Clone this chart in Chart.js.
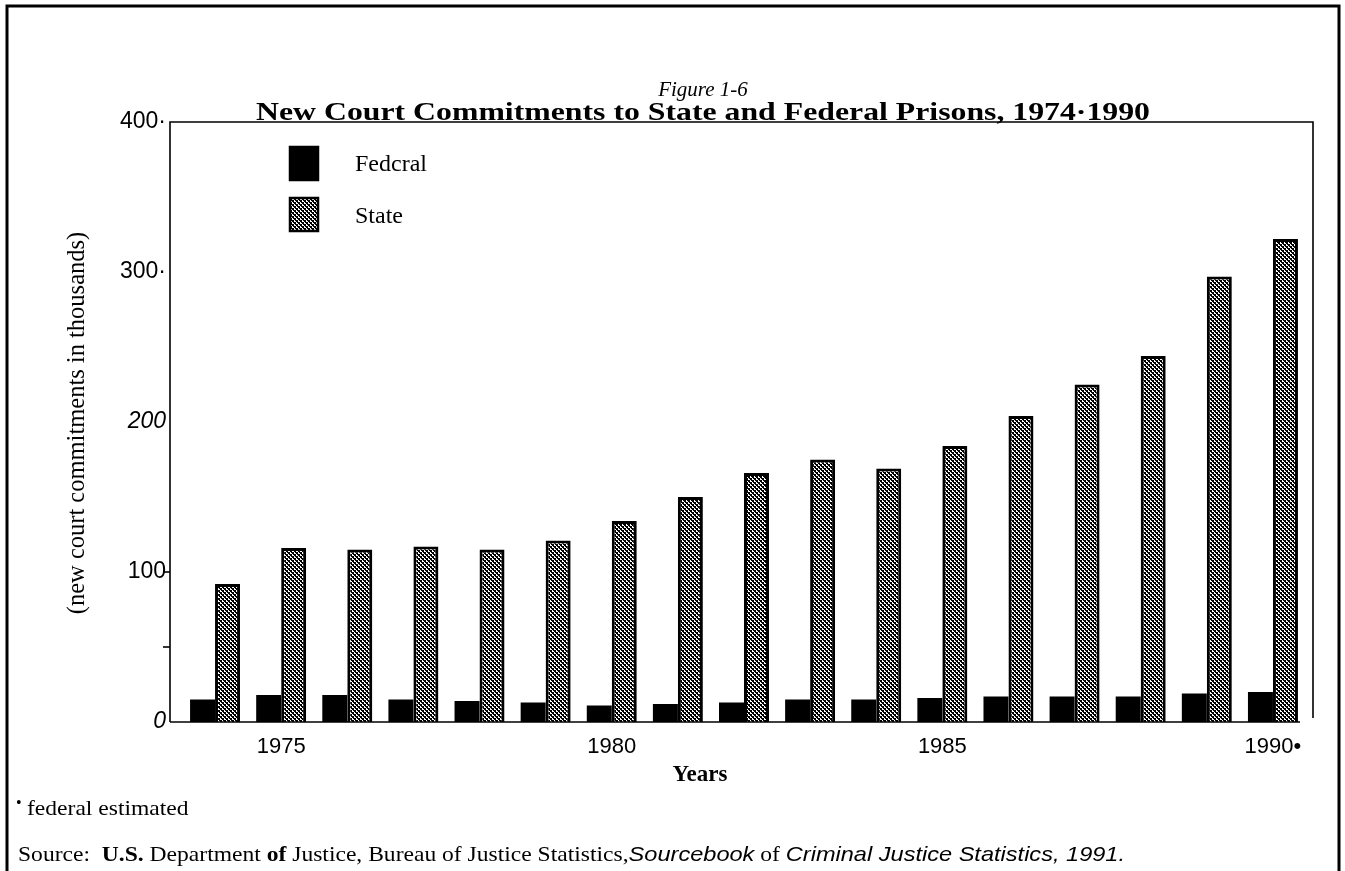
<!DOCTYPE html>
<html><head><meta charset="utf-8">
<script src="https://cdn.jsdelivr.net/npm/chart.js@4"></script>
<style>html,body{margin:0;padding:0;background:#fff;} canvas{display:block}</style>
</head><body><canvas id="c" width="1345" height="871"></canvas>
<script>
const years = [1974,1975,1976,1977,1978,1979,1980,1981,1982,1983,1984,1985,1986,1987,1988,1989,1990];
const federal = [15,18,18,15,14,13,11,12,13,15,15,16,17,17,17,19,20];
const state = [92,116,115,117,115,121,134,150,166,175,169,184,204,225,244,297,322];
const xTickLabels = {1975:'1975',1980:'1980',1985:'1985',1990:'1990\u2022'};
const yTickLabels = {0:'0',100:'100',200:'200',300:'300\u00B7',400:'400\u00B7'};
const yItalicTicks = [0,200];
const yTickMarks = [50,100];
const seriesNames = ['Fedcral','State'];

function makePattern(){
  const p=document.createElement('canvas');p.width=4;p.height=4;
  const g=p.getContext('2d');g.fillStyle='#fff';g.fillRect(0,0,4,4);
  g.fillStyle='#000';g.fillRect(0,0,2,2);g.fillRect(2,2,2,2);g.fillRect(3,0,1,1);g.fillRect(1,2,1,1);
  return document.getElementById('c').getContext('2d').createPattern(p,'repeat');
}
const statePattern = makePattern();
const SERIF = '"Liberation Serif","Times New Roman",serif';
const SANS = '"Liberation Sans",Arial,sans-serif';

function fitText(c,text,x,y,font,targetW,align){
  c.font=font;const w=c.measureText(text).width;const s=targetW/w;
  c.save();c.translate(x,y);c.scale(s,1);c.textAlign=align;c.fillText(text,0,0);c.restore();
}

const decor = {
  id:'decor',
  beforeDraw(chart){
    const c=chart.ctx;c.save();c.fillStyle='#fff';c.fillRect(0,0,chart.width,chart.height);c.restore();
  },
  afterDraw(chart){
    const c=chart.ctx, a=chart.chartArea, y=chart.scales.y;
    c.save();
    c.strokeStyle='#000';
    c.lineWidth=3;
    c.beginPath();c.moveTo(7,871);c.lineTo(7,6);c.lineTo(1339,6);c.lineTo(1339,871);c.stroke();
    const lx=a.left-12, rx=a.right+7, ty=a.top, by=y.getPixelForValue(0);
    c.lineWidth=1.6;
    c.beginPath();c.moveTo(lx,by);c.lineTo(lx,ty);c.lineTo(rx,ty);c.lineTo(rx,by-4);c.stroke();
    c.beginPath();c.moveTo(lx,by);c.lineTo(a.right-6,by);c.stroke();
    yTickMarks.forEach(v=>{const py=y.getPixelForValue(v);c.beginPath();c.moveTo(lx-7,py);c.lineTo(lx,py);c.stroke();});
    c.fillStyle='#000';c.textBaseline='alphabetic';
    c.textAlign='center';c.font='italic 21px '+SERIF;c.fillText('Figure 1-6',703,96);
    fitText(c,'New Court Commitments to State and Federal Prisons, 1974\u00B71990',703,120,'bold 26px '+SERIF,894,'center');
    const ds=chart.data.datasets;
    const lg=[[146,171],[197,223]];
    ds.forEach((d,i)=>{
      c.fillStyle=d.backgroundColor;c.fillRect(289,lg[i][0],30,35);
      c.lineWidth=2.5;c.strokeStyle='#000';c.strokeRect(290,lg[i][0]+1,28,33);
      c.fillStyle='#000';c.textAlign='left';c.font='24px '+SERIF;c.fillText(d.label,355,lg[i][1]);
    });
    c.save();c.translate(84,423);c.rotate(-Math.PI/2);c.textAlign='center';c.font='24.5px '+SERIF;
    c.fillText('(new court commitments in thousands)',0,0);c.restore();
    c.textAlign='center';c.font='bold 23px '+SERIF;c.fillText('Years',700,781);
    const segs=[['Source:  ','',SERIF],['U.S.','bold ',SERIF],[' Department ','',SERIF],['of','bold ',SERIF],[' Justice, Bureau of Justice Statistics,','',SERIF],['Sourcebook','italic ',SANS],[' of ','',SERIF],['Criminal Justice Statistics, 1991.','italic ',SANS]];
    const fs=21;
    let tot=0;segs.forEach(s=>{c.font=s[1]+fs+'px '+s[2];tot+=c.measureText(s[0]).width;});
    const sx=1107/tot;
    c.textAlign='left';
    c.save();c.translate(18,861);c.scale(sx,1);
    let x=0;segs.forEach(s=>{c.font=s[1]+fs+'px '+s[2];c.fillText(s[0],x,0);x+=c.measureText(s[0]).width;});
    c.restore();
    c.font='16px '+SERIF;c.fillText('\u2022',16,808);
    c.save();c.translate(27,815);c.scale(sx,1);c.font=fs+'px '+SERIF;c.fillText('federal estimated',0,0);c.restore();
    c.restore();
  }
};

new Chart(document.getElementById('c'),{
  type:'bar',
  data:{labels:years.map(String),datasets:[
    {label:seriesNames[0],data:federal,backgroundColor:'#000',borderColor:'#000',borderWidth:0},
    {label:seriesNames[1],data:state,backgroundColor:statePattern,borderColor:'#000',borderWidth:3}
  ]},
  options:{
    responsive:false,animation:false,devicePixelRatio:1,
    layout:{padding:{left:0,top:122,right:39,bottom:109}},
    datasets:{bar:{categoryPercentage:0.756,barPercentage:1}},
    plugins:{legend:{display:false},tooltip:{enabled:false},title:{display:false}},
    scales:{
      x:{grid:{display:false,drawTicks:false},border:{display:false},
        afterFit(s){s.height=40;},
        ticks:{autoSkip:false,maxRotation:0,padding:12,color:'#000',font:{family:SANS,size:22},
          callback:(v,i)=>xTickLabels[years[i]]||''}},
      y:{min:0,max:400,grid:{display:false,drawTicks:false},border:{display:false},
        afterFit(s){s.width=182;},
        ticks:{stepSize:100,padding:16,color:'#000',
          font:(ctx)=>({family:SANS,size:23,style:(ctx.tick&&yItalicTicks.includes(ctx.tick.value))?'italic':'normal'}),
          callback:(v)=>yTickLabels[v]!==undefined?yTickLabels[v]:''}}
    }
  },
  plugins:[decor]
});
</script></body></html>
